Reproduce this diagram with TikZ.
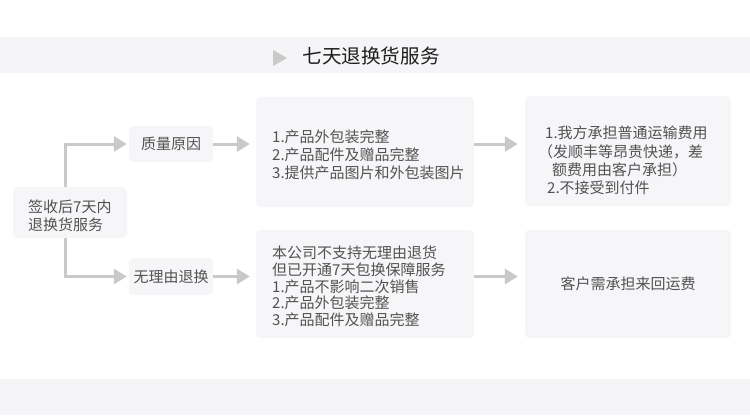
\documentclass[tikz,border=0pt]{standalone}
\usepackage{fontspec}
\setmainfont{Noto Sans CJK SC}
\usetikzlibrary{arrows.meta}
\definecolor{boxfill}{HTML}{F6F5F8}
\definecolor{bandfill}{HTML}{F5F4F7}
\definecolor{linegray}{HTML}{C9C9C9}
\definecolor{txt}{HTML}{525252}
\definecolor{ttl}{HTML}{1E1E1E}
\begin{document}
\begin{tikzpicture}[x=1pt,y=-1pt,
  box/.style={fill=boxfill, rounded corners=4pt, inner sep=0pt},
  lbl/.style={text=txt, font=\fontsize{15}{18}\selectfont, inner sep=0pt},
  conn/.style={draw=linegray, line width=3pt, -{Triangle[length=13pt,width=15pt]}}]
\useasboundingbox (0,0) rectangle (750,416);
\fill[bandfill] (0,37) rectangle (750,73);
\fill[bandfill] (0,379) rectangle (750,415);
\fill[linegray] (273,50) -- (287,58) -- (273,66) -- cycle;
\node[text=ttl, font=\fontsize{19.6}{22}\selectfont, inner sep=0pt] (title) at (371,56) {七天退换货服务};

\node[box, minimum width=114pt, minimum height=51pt] (start) at (70,212.5) {};
\node[lbl, anchor=west, align=left] (starttxt) at (28,216) {签收后7天内\\退换货服务};
\node[box, lbl, minimum width=84pt, minimum height=36pt] (q) at (171,144) {质量原因};
\node[box, lbl, minimum width=84pt, minimum height=37pt] (w) at (171,276.5) {无理由退换};

\node[box, minimum width=218pt, minimum height=110pt] (m1) at (365,152) {};
\node[lbl, anchor=west, align=left] (m1txt) at (272,155) {1.产品外包装完整\\2.产品配件及赠品完整\\3.提供产品图片和外包装图片};
\node[box, minimum width=218pt, minimum height=108pt] (m2) at (365,284) {};
\node[lbl, anchor=west, align=left, font=\fontsize{15}{16.75}\selectfont] (m2txt) at (272,286.5) {本公司不支持无理由退货\\但已开通7天包换保障服务\\1.产品不影响二次销售\\2.产品外包装完整\\3.产品配件及赠品完整};

\node[box, minimum width=206pt, minimum height=110pt] (r1) at (628,151) {};
\node[lbl, anchor=west, align=left, font=\fontsize{15}{18.3}\selectfont] (r1txt) at (538,160.5) {\hspace*{7pt}1.我方承担普通运输费用\\（发顺丰等昂贵快递，差\\\hspace*{14pt}额费用由客户承担）\\\hspace*{9pt}2.不接受到付件};
\node[box, lbl, minimum width=206pt, minimum height=108pt] (r2) at (628,284) {客户需承担来回运费};

\draw[conn, shorten >=2pt] ([xshift=-4.5pt]start.north) |- (q.west);
\draw[conn, shorten >=2pt] ([xshift=-4.5pt]start.south) |- (w.west);
\draw[conn, shorten >=6pt] (q.east) -- (q.east -| m1.west);
\draw[conn, shorten >=7pt] (q.east -| m1.east) -- (q.east -| r1.west);
\draw[conn, shorten >=6pt] (w.east) -- (w.east -| m2.west);
\draw[conn, shorten >=7pt] (w.east -| m2.east) -- (w.east -| r2.west);
\end{tikzpicture}
\end{document}
